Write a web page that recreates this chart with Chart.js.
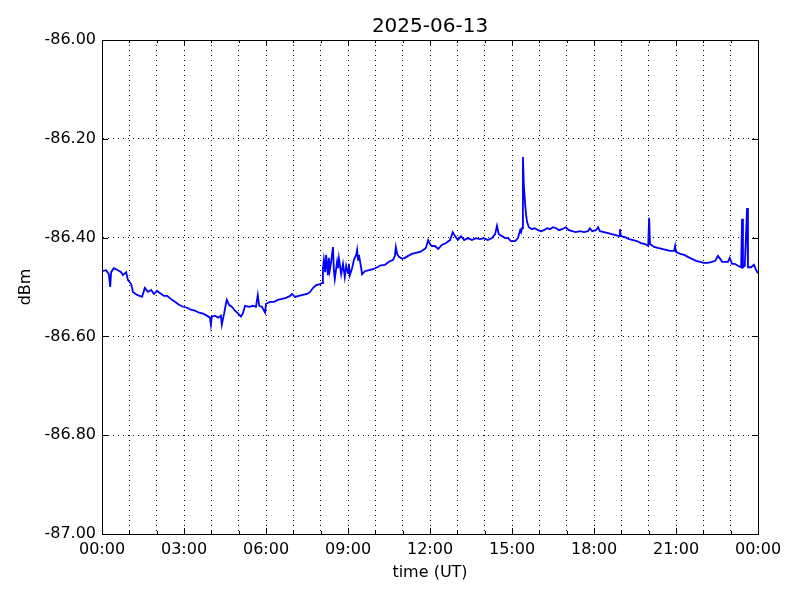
<!DOCTYPE html>
<html lang="en">
<head>
  <meta charset="UTF-8">
  <title>2025-06-13</title>
  <style>
    body {
      margin: 0;
      background: #fff;
    }
    #wrap {
      width: 800px;
      height: 600px;
    }
  </style>
</head>
<body>

<div id="wrap">
  <canvas id="sigChart" width="800" height="600"></canvas>
</div>

<script src="https://cdn.jsdelivr.net/npm/chart.js"></script>
<script>
// minutes since 00:00 UT
const times = [
  0, 9, 15, 18, 20, 26, 35, 42, 46, 53, 57, 64, 68, 77, 88, 94, 101, 108, 114, 121,
  127, 136, 143, 151, 160, 169, 178, 187, 195, 204, 213, 222, 230, 237, 239, 241, 248, 255, 261, 263,
  268, 272, 274, 279, 285, 292, 299, 305, 309, 314, 323, 331, 338, 342, 345, 351, 358, 360, 369, 378,
  386, 395, 404, 413, 417, 424, 432, 441, 450, 457, 463, 470, 479, 483, 485, 487, 490, 492, 494, 496,
  498, 500, 503, 507, 509, 511, 516, 518, 520, 525, 529, 533, 536, 540, 542, 544, 549, 553, 558, 560,
  562, 564, 569, 571, 577, 586, 595, 604, 612, 621, 630, 639, 643, 645, 648, 652, 659, 665, 672, 680,
  689, 698, 705, 711, 716, 720, 724, 731, 738, 746, 755, 764, 770, 775, 781, 788, 795, 803, 812, 821,
  830, 838, 847, 856, 863, 867, 871, 878, 885, 891, 898, 907, 913, 918, 920, 922, 924, 926, 929, 931,
  933, 937, 944, 950, 957, 964, 970, 977, 983, 990, 997, 1003, 1010, 1018, 1025, 1032, 1040, 1049, 1058, 1067,
  1071, 1076, 1084, 1089, 1093, 1102, 1111, 1119, 1128, 1135, 1137, 1139, 1148, 1157, 1166, 1174, 1183, 1192, 1199, 1201,
  1203, 1212, 1220, 1229, 1238, 1247, 1256, 1258, 1260, 1269, 1278, 1286, 1295, 1304, 1313, 1321, 1330, 1339, 1346, 1352,
  1357, 1361, 1367, 1374, 1378, 1383, 1389, 1396, 1403, 1405, 1407, 1411, 1416, 1418, 1425, 1431, 1436, 1440
];

const dbm = [
  -86.468, -86.466, -86.474, -86.500, -86.470, -86.462, -86.466, -86.470, -86.476, -86.470,
  -86.486, -86.494, -86.510, -86.516, -86.520, -86.502, -86.510, -86.506, -86.514, -86.508,
  -86.512, -86.518, -86.518, -86.524, -86.530, -86.536, -86.540, -86.542, -86.546, -86.548,
  -86.552, -86.554, -86.558, -86.562, -86.576, -86.560, -86.558, -86.562, -86.558, -86.576,
  -86.554, -86.534, -86.526, -86.536, -86.540, -86.548, -86.554, -86.560, -86.554, -86.538,
  -86.540, -86.538, -86.540, -86.516, -86.538, -86.540, -86.552, -86.534, -86.530, -86.530,
  -86.526, -86.524, -86.522, -86.518, -86.514, -86.520, -86.518, -86.516, -86.514, -86.510,
  -86.502, -86.496, -86.494, -86.492, -86.462, -86.445, -86.470, -86.435, -86.455, -86.476,
  -86.441, -86.466, -86.449, -86.419, -86.466, -86.484, -86.449, -86.462, -86.441, -86.474,
  -86.453, -86.480, -86.457, -86.472, -86.453, -86.476, -86.462, -86.445, -86.435, -86.425,
  -86.445, -86.435, -86.462, -86.474, -86.468, -86.466, -86.464, -86.460, -86.456, -86.455,
  -86.449, -86.445, -86.437, -86.419, -86.433, -86.439, -86.443, -86.441, -86.437, -86.433,
  -86.431, -86.429, -86.425, -86.421, -86.405, -86.413, -86.417, -86.417, -86.423, -86.415,
  -86.411, -86.405, -86.389, -86.397, -86.405, -86.397, -86.405, -86.401, -86.405, -86.401,
  -86.403, -86.401, -86.405, -86.401, -86.393, -86.376, -86.393, -86.397, -86.401, -86.401,
  -86.407, -86.407, -86.401, -86.385, -86.389, -86.381, -86.237, -86.294, -86.334, -86.354,
  -86.368, -86.379, -86.383, -86.381, -86.385, -86.387, -86.385, -86.381, -86.383, -86.379,
  -86.381, -86.385, -86.383, -86.379, -86.385, -86.387, -86.389, -86.387, -86.389, -86.387,
  -86.381, -86.387, -86.385, -86.379, -86.387, -86.389, -86.391, -86.393, -86.395, -86.397,
  -86.383, -86.397, -86.399, -86.403, -86.405, -86.407, -86.411, -86.413, -86.417, -86.360,
  -86.413, -86.419, -86.421, -86.423, -86.425, -86.427, -86.427, -86.417, -86.429, -86.433,
  -86.435, -86.439, -86.443, -86.447, -86.449, -86.451, -86.451, -86.449, -86.447, -86.437,
  -86.443, -86.449, -86.449, -86.449, -86.441, -86.453, -86.453, -86.457, -86.460, -86.362,
  -86.460, -86.457, -86.340, -86.460, -86.460, -86.455, -86.466, -86.472
];

const chartTitle = '2025-06-13';
const xTitle = 'time (UT)';
const yTitle = 'dBm';

const points = times.map((t, i) => ({ x: t, y: dbm[i] }));

function hhmm(m) {
  const h = Math.floor(m / 60) % 24;
  const mm = m % 60;
  return String(h).padStart(2, '0') + ':' + String(mm).padStart(2, '0');
}

// frame on all four sides + inward tick marks + title over the plot area (matplotlib look)
const frameTicks = {
  id: 'frameTicks',
  afterDatasetsDraw(chart) {
    const { ctx, chartArea: a, scales } = chart;
    ctx.save();
    ctx.strokeStyle = '#000';
    ctx.lineWidth = 1;
    ctx.beginPath();
    for (let m = 0; m <= 1440; m += 60) {
      const x = Math.round(scales.x.getPixelForValue(m)) + 0.5;
      const len = m % 180 === 0 ? 6 : 3;
      ctx.moveTo(x, a.bottom); ctx.lineTo(x, a.bottom - len);
      ctx.moveTo(x, a.top); ctx.lineTo(x, a.top + len);
    }
    scales.y.ticks.forEach(t => {
      const y = Math.round(scales.y.getPixelForValue(t.value)) + 0.5;
      ctx.moveTo(a.left, y); ctx.lineTo(a.left + 6, y);
      ctx.moveTo(a.right, y); ctx.lineTo(a.right - 6, y);
    });
    ctx.stroke();
    ctx.strokeRect(Math.round(a.left) + 0.5, Math.round(a.top) + 0.5,
      Math.round(a.right - a.left), Math.round(a.bottom - a.top));

    ctx.fillStyle = '#000';
    ctx.font = '20px "DejaVu Sans", sans-serif';
    ctx.textAlign = 'center';
    ctx.textBaseline = 'middle';
    ctx.fillText(chartTitle, (a.left + a.right) / 2, 27);
    ctx.restore();
  }
};

Chart.defaults.font.family = '"DejaVu Sans", sans-serif';
Chart.defaults.color = '#000';

new Chart(document.getElementById('sigChart'), {
  type: 'line',
  data: {
    datasets: [{
      data: points,
      borderColor: '#0000ff',
      borderWidth: 1.8,
      pointRadius: 0,
      tension: 0,
      fill: false
    }]
  },
  options: {
    responsive: false,
    animation: false,
    layout: { padding: { left: 0, right: 42, top: 40, bottom: 0 } },
    plugins: {
      legend: { display: false },
      tooltip: { enabled: false },
      title: { display: false }
    },
    scales: {
      x: {
        type: 'linear',
        min: 0,
        max: 1440,
        afterFit(scale) { scale.height = 66; },
        ticks: {
          stepSize: 60,
          autoSkip: false,
          maxRotation: 0,
          padding: 6,
          font: { size: 16 },
          callback: v => (v % 180 === 0 ? hhmm(v) : '')
        },
        grid: {
          color: '#000',
          lineWidth: 1,
          drawTicks: false
        },
        border: { display: true, color: '#000', dash: [1, 4] },
        title: {
          display: true,
          text: xTitle,
          font: { size: 16 },
          padding: { top: 0, bottom: 18 }
        }
      },
      y: {
        min: -87,
        max: -86,
        afterFit(scale) { scale.width = 102; },
        ticks: {
          stepSize: 0.2,
          padding: 6,
          font: { size: 16 },
          callback: v => v.toFixed(2)
        },
        grid: {
          color: '#000',
          lineWidth: 1,
          drawTicks: false
        },
        border: { display: true, color: '#000', dash: [1, 4] },
        title: {
          display: true,
          text: yTitle,
          font: { size: 16 },
          padding: { top: 16, bottom: 0 }
        }
      }
    }
  },
  plugins: [frameTicks]
});
</script>
</body>
</html>
